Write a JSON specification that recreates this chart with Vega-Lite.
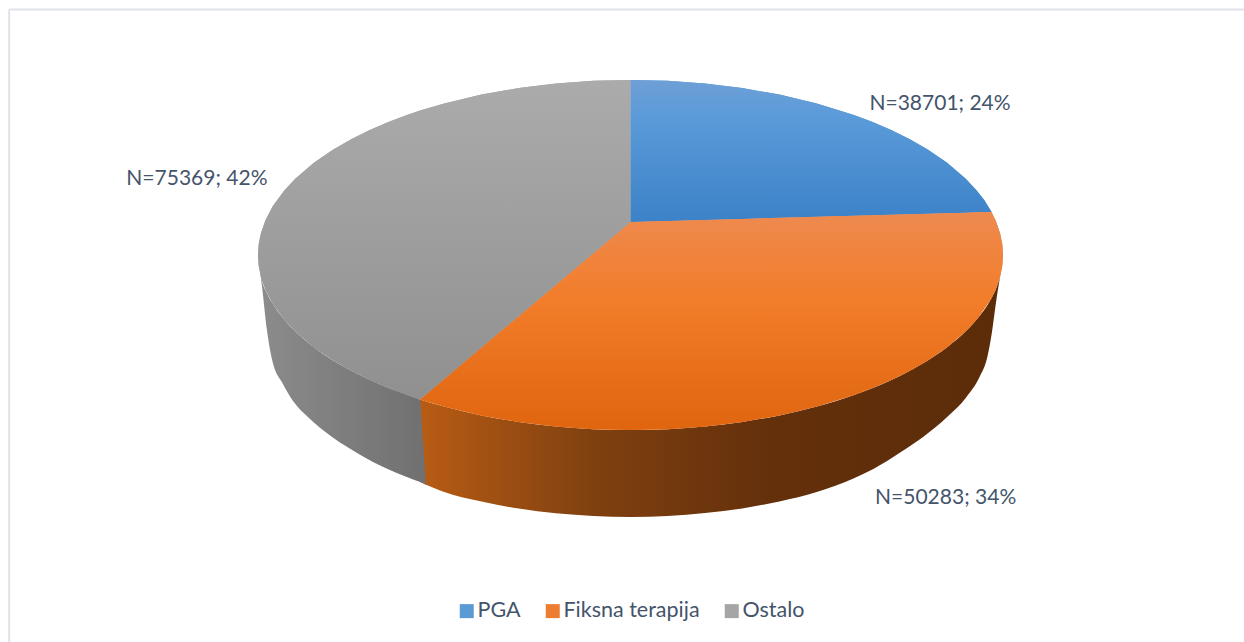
{
  "$schema": "https://vega.github.io/schema/vega-lite/v6.json",
  "width": 1244,
  "height": 642,
  "padding": 0,
  "autosize": {"type": "none"},
  "background": "white",
  "config": {"view": {"stroke": null}},
  "datasets": {
    "frame": [
      {"x": -166.8, "x2": 164.7, "y": 140.3, "y2": 140.3},
      {"x": -166.8, "x2": -166.8, "y": 140.3, "y2": -221.14}
    ],
    "labels": [
      {"name": "PGA", "n": 38701, "pct": 24, "label": "N=38701; 24%", "lx": 83.1, "ly": 86.0},
      {"name": "Fiksna terapija", "n": 50283, "pct": 34, "label": "N=50283; 34%", "lx": 84.6, "ly": -138.6},
      {"name": "Ostalo", "n": 75369, "pct": 42, "label": "N=75369; 42%", "lx": -116.4, "ly": 43.7}
    ],
    "wallGray": [
      {"x": -100, "y": 0, "y2": 0},
      {"x": -98.9, "y": -14.7, "y2": -18.3},
      {"x": -97.6, "y": -21.8, "y2": -42.9},
      {"x": -96.2, "y": -27.3, "y2": -60},
      {"x": -93.3, "y": -36, "y2": -73.7},
      {"x": -90.6, "y": -42.3, "y2": -83.4},
      {"x": -86.6, "y": -50, "y2": -92.6},
      {"x": -82.6, "y": -56.4, "y2": -100},
      {"x": -73.4, "y": -67.9, "y2": -113.1},
      {"x": -64.6, "y": -76.3, "y2": -122.9},
      {"x": -56.5, "y": -82.5, "y2": -129.7},
      {"x": -55.7, "y": -106.9, "y2": -130.3},
      {"x": -54.9, "y": -131.4, "y2": -131.4}
    ],
    "wallOrange": [
      {"x": -56.5, "y": -82.5, "y2": -129.7},
      {"x": -50, "y": -86.6, "y2": -135.4},
      {"x": -40, "y": -91.65, "y2": -140.9},
      {"x": -30, "y": -95.39, "y2": -144.9},
      {"x": -20, "y": -97.98, "y2": -147.6},
      {"x": -10, "y": -99.5, "y2": -149.1},
      {"x": 0, "y": -100, "y2": -149.7},
      {"x": 10, "y": -99.5, "y2": -149.1},
      {"x": 20, "y": -97.98, "y2": -147.4},
      {"x": 30, "y": -95.39, "y2": -144.8},
      {"x": 40, "y": -91.65, "y2": -140.8},
      {"x": 50, "y": -86.6, "y2": -135.4},
      {"x": 60, "y": -80, "y2": -127.5},
      {"x": 65.2, "y": -75.8, "y2": -122.3},
      {"x": 72.6, "y": -68.8, "y2": -112.6},
      {"x": 78.9, "y": -61.4, "y2": -103.4},
      {"x": 85, "y": -52.7, "y2": -92.6},
      {"x": 90.2, "y": -43.2, "y2": -81.1},
      {"x": 93.7, "y": -34.9, "y2": -69.7},
      {"x": 95.8, "y": -28.7, "y2": -58.3},
      {"x": 97, "y": -24.3, "y2": -44.6},
      {"x": 98.1, "y": -19.4, "y2": -27.4},
      {"x": 99.2, "y": -12.6, "y2": -12.6}
    ],
    "faces": [
      {"name": "Ostalo", "x": -100, "y": 0, "y2": 0},
      {"name": "Ostalo", "x": -99.8, "y": 6.3, "y2": -6.3},
      {"name": "Ostalo", "x": -99.2, "y": 12.6, "y2": -12.6},
      {"name": "Ostalo", "x": -98, "y": 19.9, "y2": -19.9},
      {"name": "Ostalo", "x": -96, "y": 28, "y2": -28},
      {"name": "Ostalo", "x": -93, "y": 36.75, "y2": -36.75},
      {"name": "Ostalo", "x": -90, "y": 43.59, "y2": -43.59},
      {"name": "Ostalo", "x": -85, "y": 52.68, "y2": -52.68},
      {"name": "Ostalo", "x": -80, "y": 60, "y2": -60},
      {"name": "Ostalo", "x": -75, "y": 66.14, "y2": -66.14},
      {"name": "Ostalo", "x": -70, "y": 71.41, "y2": -71.41},
      {"name": "Ostalo", "x": -65, "y": 75.99, "y2": -75.99},
      {"name": "Ostalo", "x": -60, "y": 80, "y2": -80},
      {"name": "Ostalo", "x": -56.5, "y": 82.51, "y2": -82.5},
      {"name": "Ostalo", "x": -50, "y": 86.6, "y2": -70.84},
      {"name": "Ostalo", "x": -40, "y": 91.65, "y2": -52.9},
      {"name": "Ostalo", "x": -30, "y": 95.39, "y2": -34.96},
      {"name": "Ostalo", "x": -20, "y": 97.98, "y2": -17.02},
      {"name": "Ostalo", "x": -10, "y": 99.5, "y2": 0.92},
      {"name": "Ostalo", "x": 0, "y": 100, "y2": 18.86},
      {"name": "PGA", "x": 0, "y": 100, "y2": 18.86},
      {"name": "PGA", "x": 10, "y": 99.5, "y2": 19.45},
      {"name": "PGA", "x": 20, "y": 97.98, "y2": 20.04},
      {"name": "PGA", "x": 30, "y": 95.39, "y2": 20.64},
      {"name": "PGA", "x": 40, "y": 91.65, "y2": 21.23},
      {"name": "PGA", "x": 50, "y": 86.6, "y2": 21.82},
      {"name": "PGA", "x": 60, "y": 80, "y2": 22.41},
      {"name": "PGA", "x": 65, "y": 75.99, "y2": 22.71},
      {"name": "PGA", "x": 70, "y": 71.41, "y2": 23},
      {"name": "PGA", "x": 75, "y": 66.14, "y2": 23.3},
      {"name": "PGA", "x": 80, "y": 60, "y2": 23.6},
      {"name": "PGA", "x": 85, "y": 52.68, "y2": 23.89},
      {"name": "PGA", "x": 90, "y": 43.59, "y2": 24.19},
      {"name": "PGA", "x": 93, "y": 36.75, "y2": 24.37},
      {"name": "PGA", "x": 95, "y": 31.22, "y2": 24.48},
      {"name": "PGA", "x": 96.9, "y": 24.7, "y2": 24.6},
      {"name": "Fiksna terapija", "x": -56.5, "y": -82.5, "y2": -82.5},
      {"name": "Fiksna terapija", "x": -50, "y": -70.84, "y2": -86.6},
      {"name": "Fiksna terapija", "x": -40, "y": -52.9, "y2": -91.65},
      {"name": "Fiksna terapija", "x": -30, "y": -34.96, "y2": -95.39},
      {"name": "Fiksna terapija", "x": -20, "y": -17.02, "y2": -97.98},
      {"name": "Fiksna terapija", "x": -10, "y": 0.92, "y2": -99.5},
      {"name": "Fiksna terapija", "x": 0, "y": 18.86, "y2": -100},
      {"name": "Fiksna terapija", "x": 10, "y": 19.45, "y2": -99.5},
      {"name": "Fiksna terapija", "x": 20, "y": 20.04, "y2": -97.98},
      {"name": "Fiksna terapija", "x": 30, "y": 20.64, "y2": -95.39},
      {"name": "Fiksna terapija", "x": 40, "y": 21.23, "y2": -91.65},
      {"name": "Fiksna terapija", "x": 50, "y": 21.82, "y2": -86.6},
      {"name": "Fiksna terapija", "x": 60, "y": 22.41, "y2": -80},
      {"name": "Fiksna terapija", "x": 65, "y": 22.71, "y2": -75.99},
      {"name": "Fiksna terapija", "x": 70, "y": 23, "y2": -71.41},
      {"name": "Fiksna terapija", "x": 75, "y": 23.3, "y2": -66.14},
      {"name": "Fiksna terapija", "x": 80, "y": 23.6, "y2": -60},
      {"name": "Fiksna terapija", "x": 85, "y": 23.89, "y2": -52.68},
      {"name": "Fiksna terapija", "x": 90, "y": 24.19, "y2": -43.59},
      {"name": "Fiksna terapija", "x": 93, "y": 24.37, "y2": -36.75},
      {"name": "Fiksna terapija", "x": 96.9, "y": 24.6, "y2": -24.7},
      {"name": "Fiksna terapija", "x": 98, "y": 19.9, "y2": -19.9},
      {"name": "Fiksna terapija", "x": 99.2, "y": 12.6, "y2": -12.6},
      {"name": "Fiksna terapija", "x": 99.8, "y": 6.3, "y2": -6.3},
      {"name": "Fiksna terapija", "x": 100, "y": 0, "y2": 0}
    ]
  },
  "encoding": {
    "x": {"field": "x", "type": "quantitative", "axis": null, "scale": {"domain": [-169.26, 164.7], "nice": false, "zero": false}},
    "y": {"field": "y", "type": "quantitative", "axis": null, "scale": {"domain": [-221.14, 145.71], "nice": false, "zero": false}}
  },
  "layer": [
    {
      "data": {"name": "frame"},
      "mark": {"type": "rule", "color": "#dfe3e9", "strokeWidth": 2},
      "encoding": {"x2": {"field": "x2"}, "y2": {"field": "y2"}}
    },
    {
      "data": {"name": "wallOrange"},
      "mark": {"type": "area", "interpolate": "monotone", "color": {
        "gradient": "linear", "x1": 0, "y1": 0, "x2": 1, "y2": 0,
        "stops": [
          {"offset": 0, "color": "#b85c14"},
          {"offset": 0.3, "color": "#7f4010"},
          {"offset": 0.6, "color": "#64300b"},
          {"offset": 1, "color": "#5c2c09"}
        ]
      }},
      "encoding": {"y2": {"field": "y2"}}
    },
    {
      "data": {"name": "wallGray"},
      "mark": {"type": "area", "interpolate": "monotone", "color": {
        "gradient": "linear", "x1": 0, "y1": 0, "x2": 1, "y2": 0,
        "stops": [
          {"offset": 0, "color": "#8c8c8c"},
          {"offset": 0.5, "color": "#7e7e7e"},
          {"offset": 1, "color": "#707070"}
        ]
      }},
      "encoding": {"y2": {"field": "y2"}}
    },
    {
      "data": {"name": "faces"},
      "mark": {"type": "area", "interpolate": "linear"},
      "encoding": {
        "y2": {"field": "y2"},
        "color": {
          "field": "name",
          "type": "nominal",
          "scale": {
            "domain": ["PGA", "Fiksna terapija", "Ostalo"],
            "range": ["#5b9bd5", "#ed7d31", "#a5a5a5"]
          },
          "legend": {
            "title": null,
            "orient": "none",
            "legendX": 456,
            "legendY": 600,
            "direction": "horizontal",
            "symbolType": "square",
            "symbolSize": 196,
            "symbolStrokeWidth": 0,
            "labelFont": "Lato",
            "labelFontSize": 21.5,
            "labelColor": "#44546a",
            "labelOffset": 0,
            "columnPadding": 21,
            "padding": 0
          }
        }
      }
    },
    {
      "data": {"name": "faces"},
      "transform": [{"filter": "datum.name === 'PGA'"}],
      "mark": {"type": "area", "interpolate": "linear", "color": {"gradient": "linear", "x1": 0, "y1": 0, "x2": 0, "y2": 1, "stops": [{"offset": 0, "color": "#6f9fd6"}, {"offset": 0.25, "color": "#5b9bd9"}, {"offset": 1, "color": "#3c82c8"}]}},
      "encoding": {"y2": {"field": "y2"}}
    },
    {
      "data": {"name": "faces"},
      "transform": [{"filter": "datum.name === 'Fiksna terapija'"}],
      "mark": {"type": "area", "interpolate": "linear", "color": {"gradient": "linear", "x1": 0, "y1": 0, "x2": 0, "y2": 1, "stops": [{"offset": 0, "color": "#ee8a50"}, {"offset": 0.4, "color": "#f27d2a"}, {"offset": 1, "color": "#e0650f"}]}},
      "encoding": {"y2": {"field": "y2"}}
    },
    {
      "data": {"name": "faces"},
      "transform": [{"filter": "datum.name === 'Ostalo'"}],
      "mark": {"type": "area", "interpolate": "linear", "color": {"gradient": "linear", "x1": 0, "y1": 0, "x2": 0, "y2": 1, "stops": [{"offset": 0, "color": "#ababab"}, {"offset": 1, "color": "#909090"}]}},
      "encoding": {"y2": {"field": "y2"}}
    },
    {
      "data": {"name": "labels"},
      "mark": {"type": "text", "font": "Lato", "fontSize": 21, "color": "#44546a", "align": "center", "baseline": "middle"},
      "encoding": {
        "x": {"field": "lx", "type": "quantitative", "axis": null, "scale": {"domain": [-169.26, 164.7], "nice": false, "zero": false}},
        "y": {"field": "ly", "type": "quantitative", "axis": null, "scale": {"domain": [-221.14, 145.71], "nice": false, "zero": false}},
        "text": {"field": "label", "type": "nominal"}
      }
    }
  ]
}
